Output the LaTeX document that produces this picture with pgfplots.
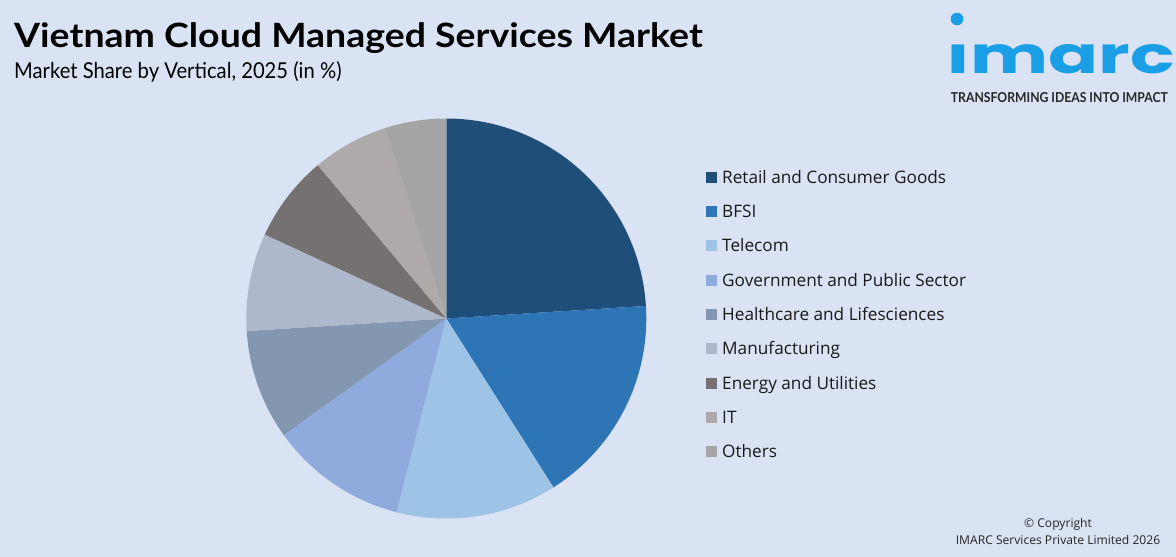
\documentclass[border=0pt]{standalone}
\usepackage{fontspec}
\setmainfont{Lato}
\newfontfamily\logofont{Poppins}
\newfontfamily\osans{Open Sans}
\usepackage{graphicx}
\usepackage{pgfplots}
\usepackage{pgfplotstable}
\pgfplotsset{compat=1.18}

\definecolor{bgcol}{HTML}{DAE3F3}
\definecolor{logoblue}{HTML}{1A9FE6}
\definecolor{pc0}{HTML}{1F4E79}
\definecolor{pc1}{HTML}{2E75B6}
\definecolor{pc2}{HTML}{9DC3E6}
\definecolor{pc3}{HTML}{8FAADC}
\definecolor{pc4}{HTML}{8497B0}
\definecolor{pc5}{HTML}{ADB9CA}
\definecolor{pc6}{HTML}{767171}
\definecolor{pc7}{HTML}{AEAAAA}
\definecolor{pc8}{HTML}{A5A5A5}

\pgfplotstableread{
share
24.0
17.0
13.0
11.1
8.9
7.9
7.0
6.1
5.0
}\piedata

\begin{document}
\begin{tikzpicture}[x=1pt,y=1pt]
\fill[bgcol] (0,0) rectangle (1176,557);
\useasboundingbox (0,0) rectangle (1176,557);
\gdef\cum{0}
\foreach \i in {0,...,8}{%
  \pgfplotstablegetelem{\i}{share}\of\piedata
  \pgfmathsetmacro\va{90-3.6*(\cum+\pgfplotsretval)}%
  \pgfmathsetmacro\vb{90-3.6*\cum}%
  \expandafter\xdef\csname sA\i\endcsname{\va}%
  \expandafter\xdef\csname sB\i\endcsname{\vb}%
  \pgfmathsetmacro\vc{\cum+\pgfplotsretval}%
  \xdef\cum{\vc}%
}
\begin{axis}[at={(246.3pt,38.5pt)}, anchor=south west, scale only axis,
  width=400pt, height=400pt, xmin=-1, xmax=1, ymin=-1, ymax=1,
  hide axis, clip=false,
  legend image code/.code={\fill[#1] (0pt,-5.5pt) rectangle (11pt,5.5pt);},
  legend cell align=left,
  legend style={at={(1.149,0.510)}, anchor=west, draw=none, fill=none,
    inner sep=0pt, outer sep=0pt, row sep=18.6pt, column sep=5.3pt,
    font=\osans\fontsize{17.2}{19}\selectfont, text=black!90,
    nodes={inner sep=0pt, text height=13.9pt, text depth=1.8pt}}]
\pgfplotsforeachungrouped \i in {0,...,8}{%
  \edef\temp{\noexpand\addplot[fill=pc\i, draw=none,
    domain=\csname sA\i\endcsname:\csname sB\i\endcsname, samples=120]
    ({cos(x)},{sin(x)}) -- (0,0) -- cycle;}%
  \temp
}
\legend{Retail and Consumer Goods, BFSI, Telecom, Government and Public Sector,
  Healthcare and Lifesciences, Manufacturing, Energy and Utilities, IT, Others}
\end{axis}

\node[anchor=base west, inner sep=0pt] at (14,509.7)
  {\scalebox{1.118}[1]{\fontsize{33.5}{36}\selectfont\bfseries Vietnam Cloud Managed Services Market}};
\node[anchor=base west, inner sep=0pt] at (14,478)
  {\scalebox{0.923}[1]{\fontsize{21.9}{24}\selectfont Market Share by Vertical, 2025 (in \%)}};

\fill[logoblue] (957,538) circle (6.3);
\node[anchor=base west, inner sep=0pt, text=logoblue] at (946.7,483.7)
  {\resizebox{228pt}{29pt}{\fontsize{53}{56}\logofont\bfseries\selectfont ımarc}};
\node[anchor=base west, inner sep=0pt, text=black!85] at (950.7,454.7)
  {\resizebox{217pt}{10pt}{\fontsize{14}{16}\selectfont\bfseries TRANSFORMING IDEAS INTO IMPACT}};

\node[anchor=base, inner sep=0pt, text=black!85] at (1058,29.3)
  {\osans\fontsize{12.1}{13}\selectfont © Copyright};
\node[anchor=base, inner sep=0pt, text=black!85] at (1058,12.7)
  {\osans\fontsize{12.1}{13}\selectfont IMARC Services Private Limited 2026};
\end{tikzpicture}
\end{document}
